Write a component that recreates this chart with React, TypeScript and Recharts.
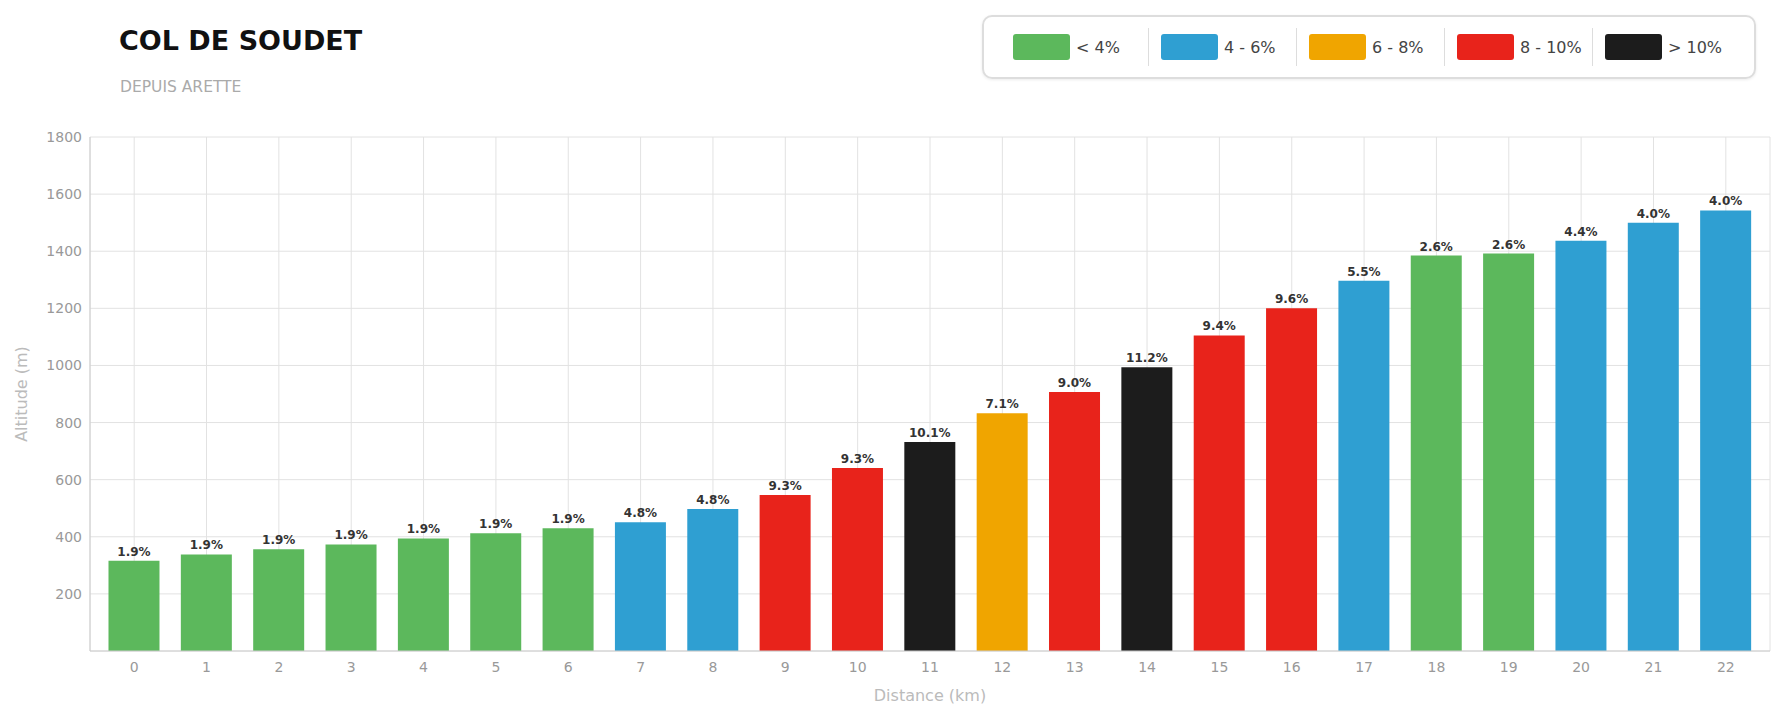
import { Bar, BarChart, CartesianGrid, Cell, LabelList, XAxis, YAxis } from "recharts";

const distances = [0, 1, 2, 3, 4, 5, 6, 7, 8, 9, 10, 11, 12, 13, 14, 15, 16, 17, 18, 19, 20, 21, 22];
const altitudes = [316, 338, 356, 373, 394, 412, 430, 451, 497, 546, 641, 732, 833, 907, 994, 1105, 1200, 1297, 1385, 1392, 1437, 1500, 1543];
const grades = [1.9, 1.9, 1.9, 1.9, 1.9, 1.9, 1.9, 4.8, 4.8, 9.3, 9.3, 10.1, 7.1, 9.0, 11.2, 9.4, 9.6, 5.5, 2.6, 2.6, 4.4, 4.0, 4.0];
const yTicks = [200, 400, 600, 800, 1000, 1200, 1400, 1600, 1800];

const classLabels = ["< 4%", "4 - 6%", "6 - 8%", "8 - 10%", "> 10%"];
const classLimits = [4, 6, 8, 10, Infinity];
const classColors = ["#5cb85c", "#2f9fd2", "#f0a500", "#e8231b", "#1c1c1c"];

const FONT = "'DejaVu Sans', sans-serif";
const BORDER = "#ccc";

const colorFor = (g: number) => classColors[classLimits.findIndex((l) => g < l)];

const data = distances.map((km, i) => ({ km, alt: altitudes[i], grade: grades[i] }));

const Legend = () => (
  <div
    style={{
      position: "absolute",
      left: 982,
      top: 15,
      width: 774,
      height: 64,
      boxSizing: "border-box",
      border: "2px solid #ddd",
      borderRadius: 10,
      boxShadow: "0 1px 3px rgba(0,0,0,0.08)",
      display: "flex",
      alignItems: "center",
      paddingLeft: 16,
    }}
  >
    {classLabels.map((label, i) => (
      <div
        key={label}
        style={{
          width: 148,
          height: 38,
          boxSizing: "border-box",
          display: "flex",
          alignItems: "center",
          paddingLeft: i === 0 ? 13 : 12,
          borderLeft: i === 0 ? "none" : "1px solid #ddd",
        }}
      >
        <span
          style={{ width: 57, height: 26, borderRadius: 3, background: classColors[i], marginRight: 6 }}
        />
        <span style={{ fontSize: 16, color: "#444", fontFamily: FONT }}>{label}</span>
      </div>
    ))}
  </div>
);

export default function App() {
  return (
    <div style={{ position: "absolute", left: 0, top: 0, width: 1785, height: 720, background: "#fff", fontFamily: FONT }}>
      <div style={{ position: "absolute", left: 119, top: 25, fontSize: 27, fontWeight: "bold", color: "#111" }}>
        COL DE SOUDET
      </div>
      <div style={{ position: "absolute", left: 120, top: 78, fontSize: 15.5, color: "#aaa" }}>DEPUIS ARETTE</div>
      <Legend />
      <BarChart
        width={1785}
        height={720}
        data={data}
        margin={{ top: 137, right: 15, bottom: 14, left: 0 }}
        barCategoryGap="14.5%"
      >
        <CartesianGrid stroke="#e2e2e2" />
        <XAxis
          dataKey="km"
          interval={0}
          padding={{ left: 8, right: 8 }}
          tickLine={false}
          tickMargin={5}
          axisLine={{ stroke: BORDER }}
          tick={{ fill: "#999", fontSize: 14, fontFamily: FONT }}
          height={55}
          label={{ value: "Distance (km)", position: "insideBottom", offset: 5, fill: "#bbb", fontSize: 16, fontFamily: FONT }}
        />
        <XAxis
          xAxisId="top"
          dataKey="km"
          orientation="top"
          height={0}
          tick={false}
          tickLine={false}
          axisLine={{ stroke: BORDER }}
        />
        <YAxis
          domain={[0, 1800]}
          ticks={yTicks}
          width={90}
          tickLine={false}
          axisLine={{ stroke: BORDER }}
          tick={{ fill: "#999", fontSize: 14, fontFamily: FONT }}
          label={{
            value: "Altitude (m)",
            angle: -90,
            position: "insideLeft",
            offset: 21,
            fill: "#bbb",
            fontSize: 16,
            fontFamily: FONT,
            style: { textAnchor: "middle" },
          }}
        />
        <YAxis
          yAxisId="right"
          orientation="right"
          domain={[0, 1800]}
          width={0}
          tick={false}
          tickLine={false}
          axisLine={{ stroke: BORDER }}
        />
        <Bar dataKey="alt" isAnimationActive={false}>
          {data.map((d) => (
            <Cell key={d.km} fill={colorFor(d.grade)} />
          ))}
          <LabelList
            dataKey="grade"
            position="top"
            offset={5}
            formatter={(v: any) => `${Number(v).toFixed(1)}%`}
            fill="#333"
            fontSize={12}
            fontWeight="bold"
            fontFamily={FONT}
          />
        </Bar>
      </BarChart>
    </div>
  );
}
